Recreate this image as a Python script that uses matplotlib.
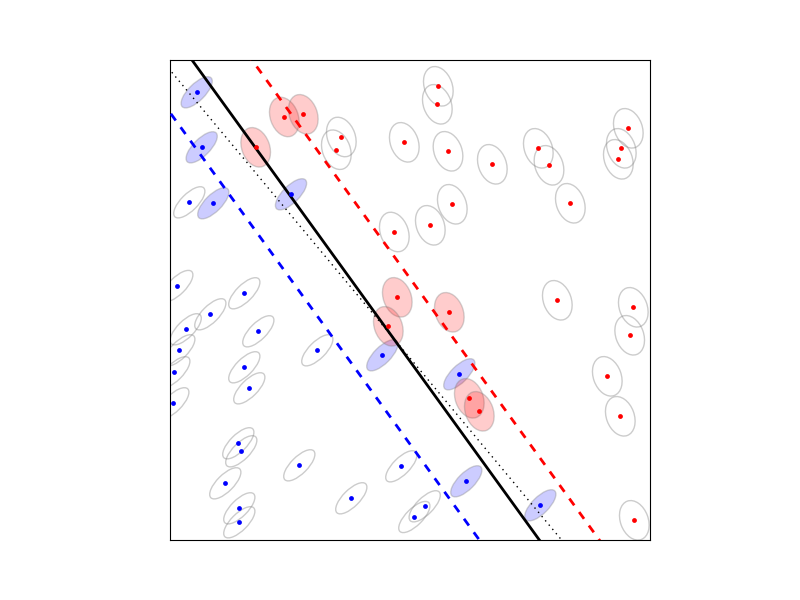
import numpy as np
import matplotlib
matplotlib.use("Agg")
import matplotlib.pyplot as plt
from matplotlib.patches import Ellipse

# ---- data (axes span 0..10 in both directions) ----
blue_x = [0.556, 0.660, 0.402, 0.902, 2.521, 0.152, 1.548, 0.840, 0.327, 1.840,
          0.194, 3.069, 4.423, 0.090, 1.548, 1.652, 0.069, 1.423, 1.485, 2.694,
          4.819, 1.152, 3.777, 1.444, 1.444, 6.027, 6.173, 5.306, 5.090, 7.715]
blue_y = [9.327, 8.181, 7.035, 7.015, 7.202, 5.292, 5.140, 4.702, 4.390, 4.348,
          3.952, 3.952, 3.848, 3.494, 3.598, 3.160, 2.848, 2.015, 1.848, 1.556,
          1.535, 1.181, 0.869, 0.660, 0.369, 3.452, 1.223, 0.702, 0.479, 0.723]
blue_sv = [1, 1, 0, 1, 1, 0, 0, 0, 0, 0,
           0, 0, 1, 0, 0, 0, 0, 0, 0, 0,
           0, 0, 0, 0, 0, 1, 1, 0, 0, 1]

red_x = [2.381, 2.777, 1.785, 3.569, 3.465, 4.881, 4.673, 4.735, 4.548, 5.590,
         5.569, 5.792, 6.715, 7.673, 7.896, 9.548, 9.402, 9.340, 5.881, 5.423,
         8.340, 8.069, 9.652, 9.577, 5.819, 6.235, 6.444, 9.110, 9.381, 9.673]
red_y = [8.813, 8.869, 8.181, 8.396, 8.131, 8.285, 6.417, 5.056, 4.452, 9.452,
         9.077, 8.098, 7.827, 8.160, 7.806, 8.577, 8.160, 7.931, 6.994, 6.556,
         7.015, 4.994, 4.848, 4.265, 4.744, 2.952, 2.681, 3.410, 2.577, 0.410]
red_sv = [1, 1, 1, 0, 0, 0, 0, 1, 1, 0,
          0, 0, 0, 0, 0, 0, 0, 0, 0, 0,
          0, 0, 0, 0, 1, 1, 1, 0, 0, 0]

# learned separator  w.x + b = 0  (margins at +-1) and true separator
w_svm = [0.800, 0.579]
b_svm = -6.156
w_true = [1.2, 1.0]
b_true = -9.79

# per-class uncertainty ellipses: (major, minor, angle)
blue_ell = (0.85, 0.35, 45)
red_ell = (0.85, 0.58, -70)

fig = plt.figure(figsize=(8, 6), dpi=100)
ax = fig.add_axes([0.2125, 0.1, 0.6, 0.8])


def draw(xs, ys, sv, ell, color, face):
    for x, y, s in zip(xs, ys, sv):
        if s:
            e = Ellipse((x, y), ell[0], ell[1], angle=ell[2],
                        facecolor=face, edgecolor=(0.5, 0.5, 0.5, 0.35), lw=1.0, zorder=1)
        else:
            e = Ellipse((x, y), ell[0], ell[1], angle=ell[2],
                        facecolor='none', edgecolor=(0.5, 0.5, 0.5, 0.4), lw=1.0, zorder=1)
        ax.add_patch(e)
    ax.scatter(xs, ys, s=12, color=color, zorder=4, linewidths=0)


draw(blue_x, blue_y, blue_sv, blue_ell, 'blue', (0, 0, 1, 0.2))
draw(red_x, red_y, red_sv, red_ell, 'red', (1, 0, 0, 0.2))

xx = np.linspace(-1, 11, 200)
ax.plot(xx, -(w_svm[0] * xx + b_svm) / w_svm[1], color='black', lw=2, zorder=3)
ax.plot(xx, -(w_svm[0] * xx + b_svm + 1) / w_svm[1], color='blue', lw=2, ls=(0, (3, 3)), zorder=3)
ax.plot(xx, -(w_svm[0] * xx + b_svm - 1) / w_svm[1], color='red', lw=2, ls=(0, (3, 3)), zorder=3)
ax.plot(xx, -(w_true[0] * xx + b_true) / w_true[1], color='black', lw=1, ls=(0, (1, 3)), zorder=3)

ax.set_xlim(0, 10)
ax.set_ylim(0, 10)
ax.set_xticks([])
ax.set_yticks([])

fig.savefig("out.png", dpi=100)
